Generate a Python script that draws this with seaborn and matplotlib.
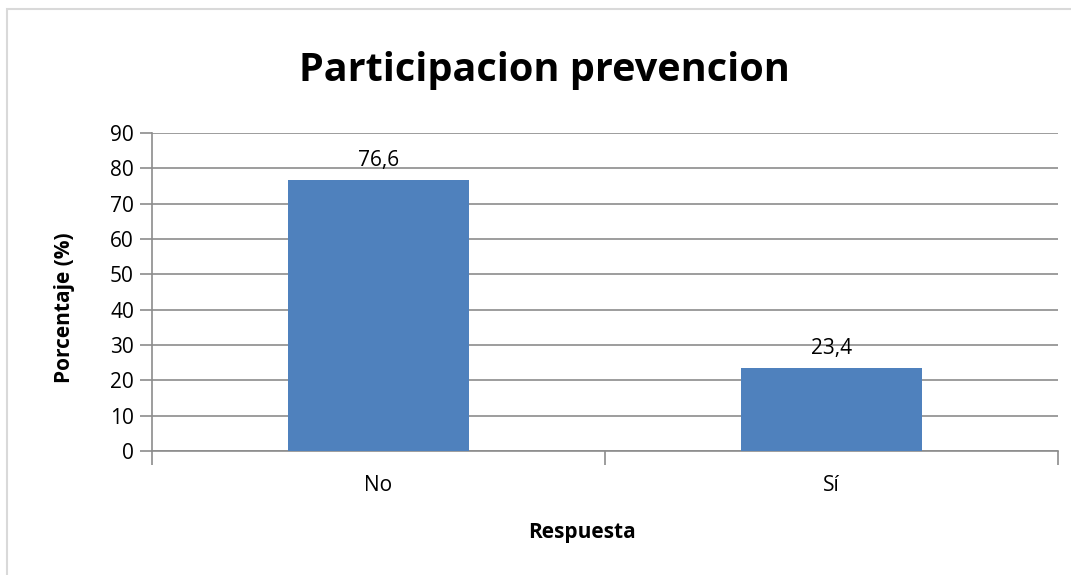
import matplotlib
matplotlib.use('Agg')
import matplotlib.pyplot as plt
import seaborn as sns
import pandas as pd
from matplotlib.patches import Rectangle

# Data
respuestas = ['No', 'Sí']
porcentajes = [76.6, 23.4]
etiquetas = ['76,6', '23,4']

df = pd.DataFrame({'Respuesta': respuestas, 'Porcentaje': porcentajes})

sns.set_style('white')
plt.rcParams['font.family'] = ['Open Sans', 'DejaVu Sans']
plt.rcParams['text.color'] = 'black'
plt.rcParams['axes.labelcolor'] = 'black'
plt.rcParams['xtick.color'] = 'black'
plt.rcParams['ytick.color'] = 'black'

fig = plt.figure(figsize=(10.71, 5.75), dpi=100)
ax = fig.add_axes([152 / 1071, 124 / 575, 906 / 1071, 318 / 575])

# Outer chart border
fig.patches.append(Rectangle((7 / 1071, -0.01), 1.0, (575 - 9) / 575 + 0.01,
                             transform=fig.transFigure, fill=False,
                             edgecolor='#d9d9d9', linewidth=1.5, zorder=0))

sns.barplot(data=df, x='Respuesta', y='Porcentaje', color='#4f81bd',
            width=0.4, saturation=1, linewidth=0, ax=ax, zorder=3)

for i, (v, t) in enumerate(zip(porcentajes, etiquetas)):
    ax.annotate(t, (i, v), xytext=(0, 7), textcoords='offset points',
                ha='center', va='bottom', fontsize=15, color='black')

ax.set_xlim(-0.5, 1.5)
ax.set_ylim(0, 90)
ax.set_yticks(range(0, 91, 10))
ax.yaxis.grid(True, color='#8c8c8c', linewidth=1.2, zorder=0)
ax.set_axisbelow(True)

for s in ['top', 'right']:
    ax.spines[s].set_visible(False)
for s in ['left', 'bottom']:
    ax.spines[s].set_color('#8c8c8c')
    ax.spines[s].set_linewidth(1.2)

ax.tick_params(axis='y', left=True, length=9, width=1.2, color='#8c8c8c',
               labelcolor='black', labelsize=15, pad=4)
ax.tick_params(axis='x', which='major', bottom=True, length=0, labelsize=15,
               labelcolor='black', pad=17)
ax.set_xticks([-0.5, 0.5, 1.5], minor=True)
ax.tick_params(axis='x', which='minor', bottom=True, length=10, width=1.2,
               color='#8c8c8c', direction='out')

ax.set_xlabel('Respuesta', fontsize=15, fontweight='bold')
ax.set_ylabel('Porcentaje (%)', fontsize=15, fontweight='bold')
ax.xaxis.set_label_coords(0.4746, -0.222)
ax.yaxis.set_label_coords(-0.085, 0.45)
fig.text(544 / 1071, 1 - 70 / 575, 'Participacion prevencion', ha='center', va='center',
         fontsize=28.5, fontweight='bold', color='black')

fig.savefig('out.png', dpi=100)
